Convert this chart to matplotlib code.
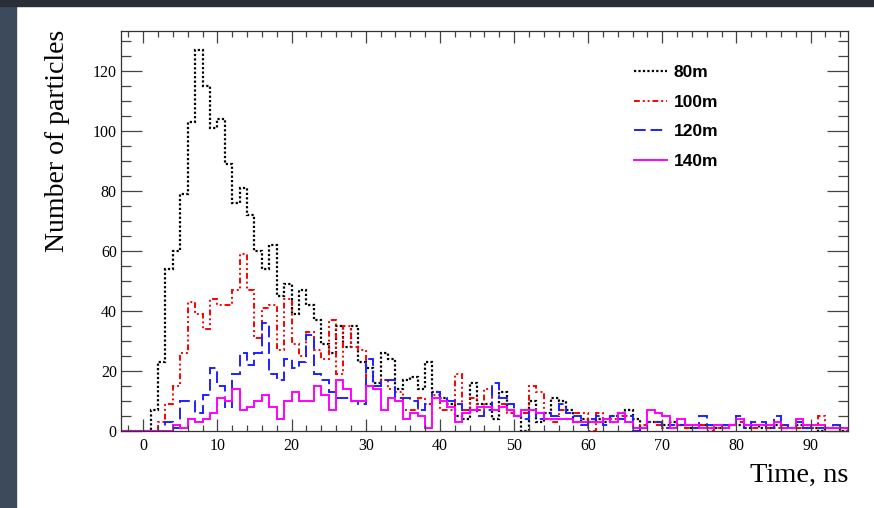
import numpy as np
import matplotlib
matplotlib.use("Agg")
import matplotlib.pyplot as plt
from matplotlib.patches import Rectangle
from matplotlib.ticker import MultipleLocator

# bin edges: 1 ns bins from -3 to 95 ns
edges = np.arange(-3, 96, 1)

# counts per bin, first bin is [-3, -2)
n80 = [0, 0, 0, 0, 7, 23, 54, 60, 79, 103, 127, 115, 101, 104, 89, 76, 81, 72, 60, 54,
       62, 45, 49, 39, 47, 42, 37, 29, 26, 35, 28, 35, 23, 21, 16, 26, 24, 14, 17, 18,
       14, 23, 13, 11, 9, 5, 4, 16, 9, 9, 4, 13, 7, 5, 0, 10, 3, 6, 11, 10,
       7, 3, 4, 3, 4, 3, 5, 6, 7, 4, 1, 3, 3, 2, 3, 2, 1, 1, 2, 1,
       1, 1, 2, 2, 1, 2, 1, 1, 2, 1, 1, 2, 1, 1, 0, 1, 1, 0]
n100 = [0, 0, 0, 0, 0, 3, 9, 15, 26, 43, 39, 34, 44, 42, 42, 47, 59, 47, 31, 41,
        42, 27, 44, 29, 25, 33, 27, 24, 37, 19, 35, 28, 27, 15, 15, 17, 14, 13, 7, 7,
        11, 9, 12, 7, 7, 19, 7, 11, 7, 14, 7, 9, 6, 5, 6, 15, 13, 4, 3, 7,
        6, 6, 6, 0, 6, 4, 4, 5, 5, 1, 2, 3, 2, 1, 2, 2, 1, 1, 2, 0,
        1, 1, 2, 3, 2, 1, 2, 1, 1, 2, 1, 1, 2, 1, 5, 1, 1, 1]
n120 = [0, 0, 0, 0, 0, 0, 3, 1, 10, 10, 6, 12, 21, 15, 8, 19, 26, 22, 26, 36,
        19, 17, 24, 21, 23, 32, 19, 17, 13, 11, 11, 10, 9, 24, 15, 17, 17, 11, 11, 10,
        7, 9, 13, 11, 10, 9, 7, 7, 5, 7, 16, 11, 9, 5, 4, 7, 4, 6, 5, 9,
        6, 5, 2, 4, 5, 2, 5, 4, 5, 0, 1, 3, 3, 1, 2, 2, 2, 1, 5, 2,
        2, 2, 2, 5, 1, 3, 3, 1, 5, 2, 1, 3, 1, 1, 1, 1, 2, 1]
n140 = [0, 0, 0, 0, 0, 0, 0, 2, 1, 4, 3, 4, 6, 11, 10, 14, 7, 8, 10, 12,
        8, 4, 10, 13, 10, 10, 15, 12, 7, 17, 14, 10, 10, 15, 14, 7, 11, 10, 4, 6,
        5, 1, 11, 10, 8, 3, 6, 7, 8, 8, 7, 8, 7, 5, 7, 7, 6, 4, 4, 4,
        4, 3, 3, 3, 3, 4, 3, 6, 3, 1, 1, 7, 6, 5, 1, 4, 2, 2, 1, 1,
        2, 1, 2, 4, 2, 2, 2, 2, 3, 1, 1, 4, 2, 2, 2, 1, 1, 1]
labels = ["80m", "100m", "120m", "140m"]

fig = plt.figure(figsize=(8.74, 5.08), dpi=100)
fig.patch.set_facecolor("white")
# dark picture border round the white canvas
fig.patches.append(Rectangle((0, 0), 16/874, 1, transform=fig.transFigure,
                             color="#3c4a5c", zorder=0))
fig.patches.append(Rectangle((0, 1 - 6/508), 1, 6/508, transform=fig.transFigure,
                             color="#2a2f37", zorder=0))

ax = fig.add_axes([121/874, 1 - 430.7/508, 726.7/874, 399.7/508])

ax.stairs(n80, edges, color="black", lw=1.6, linestyle=(0, (1, 1)), label=labels[0])
ax.stairs(n100, edges, color="#ff0000", lw=1.4, linestyle=(0, (3, 1.5, 1, 1.5, 1, 1.5)),
          label=labels[1])
ax.stairs(n120, edges, color="#2020ff", lw=1.4, linestyle=(0, (6, 2.5)), label=labels[2])
ax.stairs(n140, edges, color="#ff00ff", lw=1.4, label=labels[3])

ax.set_xlim(-3, 95)
ax.set_ylim(0, 127 * 1.05)

ax.xaxis.set_major_locator(MultipleLocator(10))
ax.xaxis.set_minor_locator(MultipleLocator(2))
ax.yaxis.set_major_locator(MultipleLocator(20))
ax.yaxis.set_minor_locator(MultipleLocator(5))
ax.tick_params(which="both", direction="in", top=True, right=True, color="#444444",
               width=0.9, labelsize=11.5)
ax.tick_params(axis="x", which="major", length=8.6, pad=5)
ax.tick_params(axis="x", which="minor", length=4.3)
ax.tick_params(axis="y", which="major", length=15, pad=3)
ax.tick_params(axis="y", which="minor", length=7.2)
for t in ax.get_xticklabels() + ax.get_yticklabels():
    t.set_family("Liberation Serif")
for s in ax.spines.values():
    s.set_linewidth(0.9)
    s.set_color("#333333")

fig.text(58/874, 1 - 30/508, "Number of particles", rotation=90, ha="center", va="top",
         fontsize=20, family="Liberation Serif")
fig.text(848/874, 1 - 482/508, "Time, ns", ha="right", va="baseline",
         fontsize=20.5, family="Liberation Serif")

leg = ax.legend(loc="upper left", bbox_to_anchor=(634/874, 1 - 65/508),
                bbox_transform=fig.transFigure, frameon=False, borderpad=0,
                borderaxespad=0, handlelength=1.9, handletextpad=0.4,
                labelspacing=0.83, prop={"family": "Liberation Sans", "weight": "bold",
                                         "size": 12.5})

fig.savefig("out.png", dpi=100)
